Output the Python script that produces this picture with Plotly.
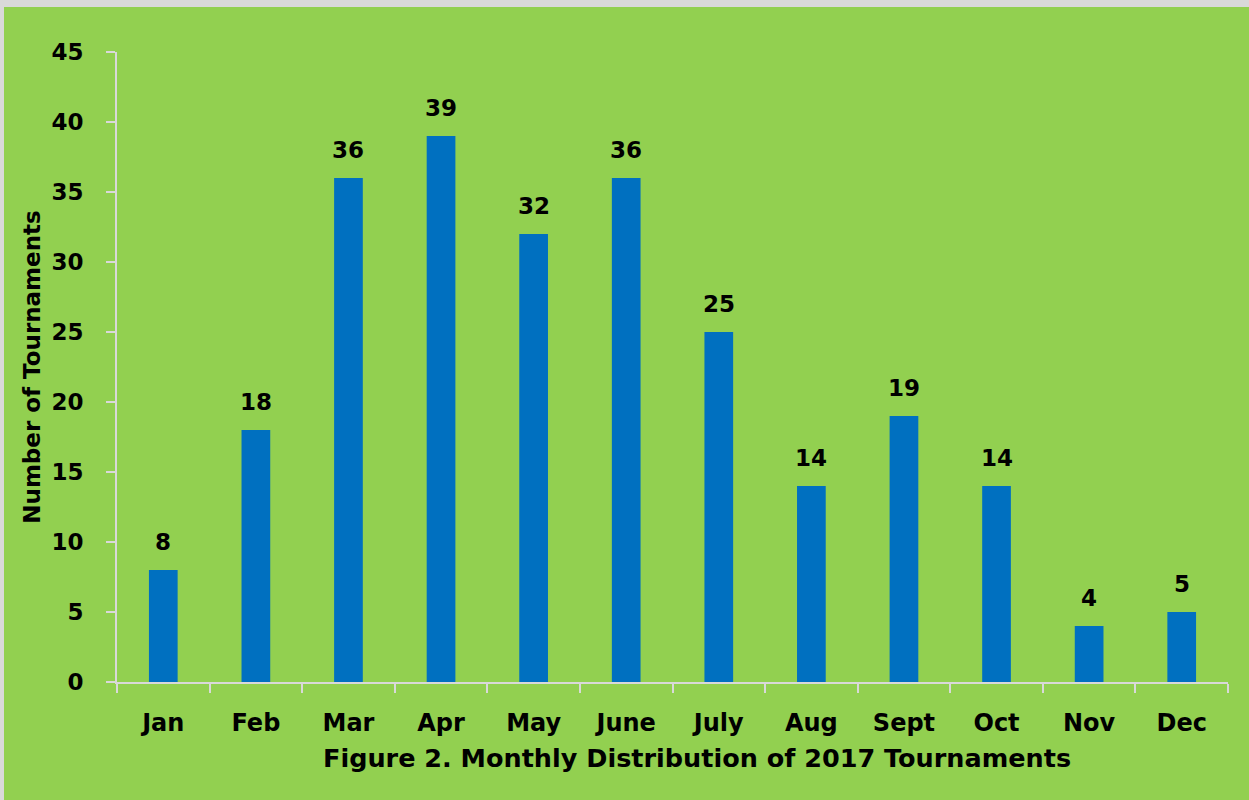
import plotly.graph_objects as go

months = ["Jan", "Feb", "Mar", "Apr", "May", "June", "July", "Aug", "Sept", "Oct", "Nov", "Dec"]
tournaments = [8, 18, 36, 39, 32, 36, 25, 14, 19, 14, 4, 5]
y_ticks = [0, 5, 10, 15, 20, 25, 30, 35, 40, 45]

FONT = "DejaVu Sans"
GREEN = "#92D050"
BLUE = "#0070C0"
GRAY = "#D9D9D9"

L, R, T, B = 117, 21, 52, 118
W, H = 1249, 800
PW, PH = W - L - R, H - T - B

fig = go.Figure()
fig.add_trace(go.Bar(
    x=months, y=tournaments,
    marker=dict(color=BLUE, line=dict(width=0)),
    width=0.31,
))

for m, v in zip(months, tournaments):
    fig.add_annotation(x=m, y=v, text=str(v), showarrow=False,
                       yanchor="bottom", yshift=13,
                       font=dict(family=FONT, size=23, color="black", weight="bold"))

# x-axis title, placed like the reference (slightly right of plot centre)
fig.add_annotation(xref="paper", yref="paper",
                   x=(697 - L) / PW, y=-(758 - (H - B)) / PH,
                   xanchor="center", yanchor="middle", showarrow=False,
                   text="Figure 2. Monthly Distribution of 2017 Tournaments",
                   font=dict(family=FONT, size=25.5, color="black", weight="bold"))

fig.update_layout(
    width=W, height=H,
    margin=dict(l=L, r=R, t=T, b=B),
    paper_bgcolor=GREEN, plot_bgcolor=GREEN,
    showlegend=False,
    font=dict(family=FONT, color="black", size=23, weight="bold"),
    xaxis=dict(
        type="category",
        showline=True, linecolor=GRAY, linewidth=2,
        ticks="outside", tickson="boundaries", ticklen=9, tickcolor=GRAY, tickwidth=2,
        showgrid=False, zeroline=False,
        ticklabelstandoff=18,
        tickfont=dict(family=FONT, size=24, color="black", weight="bold"),
    ),
    yaxis=dict(
        range=[0, 45], tickvals=y_ticks,
        showline=True, linecolor=GRAY, linewidth=2,
        ticks="outside", ticklen=9, tickcolor=GRAY, tickwidth=2,
        showgrid=False, zeroline=False,
        ticklabelstandoff=18,
        tickfont=dict(family=FONT, size=23, color="black", weight="bold"),
        title=dict(text="Number of Tournaments",
                   font=dict(family=FONT, size=23, color="black", weight="bold"),
                   standoff=4),
    ),
    shapes=[
        dict(type="rect", xref="paper", yref="paper",
             x0=-L / PW, x1=(W - L) / PW, y0=(PH + T - 7) / PH, y1=(PH + T) / PH,
             fillcolor=GRAY, line=dict(width=0), layer="above"),
        dict(type="rect", xref="paper", yref="paper",
             x0=-L / PW, x1=(4 - L) / PW, y0=-B / PH, y1=(PH + T) / PH,
             fillcolor=GRAY, line=dict(width=0), layer="above"),
    ],
)

fig.write_html("out.html")
